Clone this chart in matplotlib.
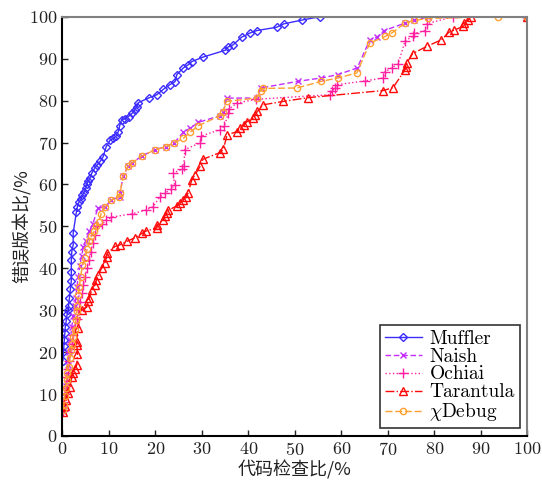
import matplotlib

matplotlib.use("Agg")

import matplotlib.pyplot as plt  # noqa: E402

plt.rcParams["font.family"] = ["cmr10", "DejaVu Serif"]
plt.rcParams["mathtext.fontset"] = "cm"
plt.rcParams["axes.formatter.use_mathtext"] = True

_CJK = ["Noto Sans CJK SC", "DejaVu Sans"]

# Muffler
muffler_x = [
    0.1, 0.2, 0.3, 0.4, 0.5, 0.6, 0.8, 1.0, 1.2, 1.3,
    1.5, 1.7, 1.9, 1.9, 1.9, 2.0, 2.3, 2.3, 3.0, 3.2,
    3.5, 4.0, 4.3, 4.7, 5.0, 5.2, 5.5, 5.9, 6.3, 7.0,
    7.5, 8.1, 8.7, 9.4, 10.2, 10.9, 11.5, 12.0, 12.3, 12.7,
    13.5, 14.2, 15.0, 15.6, 16.0, 16.3, 18.5, 20.3, 21.7, 23.1,
    24.2, 24.6, 26.0, 27.0, 27.8, 30.3, 35.0, 35.5, 36.7, 38.5,
    40.3, 41.8, 46.1, 47.6, 51.5, 55.4, 100,
]
muffler_y = [
    18, 20, 21.5, 23, 24.5, 26, 27.5, 29, 30, 31,
    33, 35, 37, 39, 42, 44, 45.6, 48.4, 53.5, 54.7,
    55.7, 56.5, 57.5, 58.3, 59.1, 60, 60.7, 61.5, 62.7, 64,
    64.7, 65.5, 66.5, 69, 70.5, 71, 71.5, 72.6, 74, 75.4,
    75.7, 76.2, 77, 77.8, 78.5, 79.5, 80.6, 81.4, 82.7, 83.8,
    84.5, 86.2, 87.8, 88.5, 89.3, 90.4, 92, 92.7, 93.3, 95.1,
    96.1, 96.7, 97.5, 98.3, 99.2, 100, 100,
]

# Naish
naish_x = [
    0.2, 0.3, 0.5, 0.7, 0.9, 1.1, 1.4, 1.7, 2.0, 2.3,
    2.6, 2.9, 3.1, 3.4, 3.7, 4.1, 4.5, 5.0, 5.8, 6.5,
    7.6, 9.2, 10.5, 12.3, 12.4, 13.0, 14.1, 14.9, 17.1, 20.0,
    22.2, 24.0, 26.0, 27.4, 29.2, 33.9, 34.5, 35.3, 41.8, 42.6,
    50.7, 55.7, 59.3, 63.4, 66.1, 67.7, 69.2, 73.7, 75.6, 78.5,
    100,
]
naish_y = [
    6, 7.5, 9.5, 12, 14.5, 17, 20, 23, 26, 28.5,
    31, 33, 35.5, 38, 40.5, 43, 45, 46.6, 48.9, 50.5,
    54.3, 54.7, 56.3, 57.0, 57.9, 61.9, 64.3, 65.1, 66.8, 68.3,
    69.0, 69.9, 72.4, 73.4, 74.8, 76.4, 77.2, 80.6, 80.6, 83.0,
    84.6, 85.4, 86.2, 87.8, 94.5, 95.2, 96.7, 98.5, 99.1, 99.9,
    100,
]

# Ochiai
ochiai_x = [
    0.2, 0.3, 0.5, 0.7, 0.9, 1.1, 1.4, 1.7, 2.0, 2.3,
    2.7, 3.1, 3.5, 3.8, 4.2, 4.5, 4.9, 5.3, 5.7, 6.1,
    6.5, 7.0, 7.4, 8.5, 9.4, 10.5, 15.0, 18.0, 19.5, 20.9,
    22.0, 23.4, 24.1, 23.8, 25.8, 26.1, 26.3, 29.6, 29.8, 33.9,
    34.8, 35.7, 35.8, 37.5, 41.6, 57.5, 57.9, 58.6, 59.1, 65.1,
    69.0, 69.4, 70.8, 72.2, 73.7, 75.4, 75.6, 78.0, 78.3, 84.0,
    100,
]
ochiai_y = [
    6, 8, 10, 12, 14, 16, 18, 20, 22, 24,
    26, 28, 30, 32, 34, 36, 38, 40, 42, 44,
    46, 48, 50, 50.5, 51.5, 52.2, 53, 53.9, 54.7, 57,
    57.9, 58.9, 59.9, 62.7, 63.7, 64.5, 68.3, 69.9, 71.5, 73.1,
    73.9, 77.1, 78, 79.4, 80.3, 81.4, 82.2, 83.0, 83.8, 84.7,
    85.4, 86.9, 87.8, 88.8, 94.3, 95.3, 96, 96.7, 98.3, 100,
    100,
]

# Tarantula
tarantula_x = [
    0.2, 0.5, 0.8, 1.2, 1.6, 2.0, 2.3, 2.6, 3.1, 3.2,
    3.1, 3.05, 3.3, 4.1, 5.2, 5.5, 5.7, 6.3, 7.0, 7.3,
    7.7, 8.4, 9.1, 9.5, 9.6, 11.3, 12.4, 13.8, 15.6, 17.2,
    18.0, 20.3, 20.4, 21.7, 22.0, 22.5, 22.7, 24.6, 25.3, 26.0,
    26.6, 27.0, 27.8, 28.5, 29.6, 30.2, 33.9, 34.6, 35.4, 37.5,
    38.1, 39.0, 39.7, 41.0, 41.5, 41.9, 43.2, 47.5, 52.9, 69.0,
    71.1, 73.7, 73.8, 74.0, 75.3, 78.3, 81.5, 83.1, 84.2, 86.2,
    86.4, 87.3, 87.8, 100,
]
tarantula_y = [
    5.8, 7.2, 8.6, 10.2, 11.8, 14, 15, 16, 17, 19.5,
    21.7, 22.5, 25.7, 30.1, 30.7, 32.1, 32.9, 34.8, 36, 37.2,
    38.4, 40, 41.2, 42.8, 43.6, 45.2, 45.6, 46.4, 47.3, 48.4,
    48.9, 49.6, 50.4, 51.6, 52.5, 53.2, 53.8, 54.9, 55.5, 56.3,
    57.1, 57.9, 61.1, 62.3, 64.3, 66.0, 67.6, 68.4, 71.8, 72.6,
    73.4, 74.2, 75, 75.8, 76.6, 77.4, 79.0, 79.8, 80.7, 82.4,
    83.1, 87.4, 88, 88.9, 91.2, 92.9, 94.5, 96.3, 96.8, 97.7,
    98.5, 99.3, 100, 100,
]

# χDebug
chidebug_x = [
    0.2, 0.3, 0.5, 0.7, 0.9, 1.0, 1.3, 1.6, 1.9, 2.1,
    2.3, 2.6, 2.9, 3.1, 3.2, 3.4, 3.6, 3.9, 4.3, 4.8,
    5.3, 5.8, 6.2, 6.8, 7.3, 7.8, 8.3, 9.2, 10.5, 12.2,
    12.4, 13.0, 14.1, 14.9, 17.1, 20.0, 22.2, 24.0, 26.0, 27.4,
    29.2, 33.9, 34.5, 35.3, 41.8, 42.6, 43.2, 50.4, 55.7, 59.3,
    63.3, 66.1, 69.4, 70.8, 73.7, 75.6, 78.5, 93.7, 100,
]
chidebug_y = [
    6.3, 7.5, 9.5, 11.5, 13.4, 15, 16.5, 18.5, 20.5, 22,
    23.7, 25.3, 27.7, 29.7, 31, 33.6, 35.5, 38, 40.8, 42.4,
    44.5, 46.6, 47.6, 48.8, 50, 51.1, 53, 54.7, 56.3, 57,
    57.9, 61.9, 64.3, 65.1, 66.8, 68.3, 69.0, 69.9, 71.0, 72.4,
    74.0, 76.4, 77.2, 79.8, 80.6, 82.3, 82.9, 83.0, 84.6, 85.4,
    86.6, 93.7, 95.3, 96.1, 98.5, 99.1, 99.6, 100, 100,
]

fig = plt.figure(figsize=(5.42, 4.86), dpi=100)
ax = fig.add_axes([0.1153, 0.1029, 0.8579, 0.8627])

common = dict(linewidth=1.0, markerfacecolor="none", markeredgewidth=1.0)
ax.plot(muffler_x, muffler_y, color="#3b2cff", linestyle="-", marker="D",
        markersize=4.2, label="Muffler", **common)
ax.plot(naish_x, naish_y, color="#c22cff", linestyle=(0, (4, 2)), marker="x",
        markersize=5, label="Naish", **common)
ax.plot(ochiai_x, ochiai_y, color="#ff1fa0", linestyle=":", marker="+",
        markersize=7, label="Ochiai", **common)
ax.plot(tarantula_x, tarantula_y, color="#ff0a0a", linestyle="-.", marker="^",
        markersize=5.5, label="Tarantula", **common)
ax.plot(chidebug_x, chidebug_y, color="#ffa030", linestyle=(0, (5, 2)), marker="o",
        markersize=4.5, label=r"$\chi$Debug", **common)

ax.set_xlim(0, 100)
ax.set_ylim(0, 100)
ax.set_xticks(range(0, 101, 10))
ax.set_yticks(range(0, 101, 10))
ax.tick_params(direction="in", length=4, width=1, labelsize=13, top=False, right=False,
               colors="#222222")
for side in ("left", "bottom"):
    ax.spines[side].set_color("black")
    ax.spines[side].set_linewidth(1.5)
for side in ("top", "right"):
    ax.spines[side].set_color("#808080")
    ax.spines[side].set_linewidth(1.5)

ax.set_xlabel("代码检查比/%", family=_CJK, fontsize=13, color="#222222", labelpad=2)
ax.set_ylabel("错误版本比/%", family=_CJK, fontsize=13, color="#222222", labelpad=-2)

leg = ax.legend(loc="lower right", fontsize=14, fancybox=False, framealpha=1,
                edgecolor="#333333", handlelength=1.9, handletextpad=0.4,
                labelspacing=0.0, borderpad=0.25, borderaxespad=0.4)
leg.get_frame().set_linewidth(1.2)

fig.savefig("out.png", dpi=100)
plt.close(fig)
